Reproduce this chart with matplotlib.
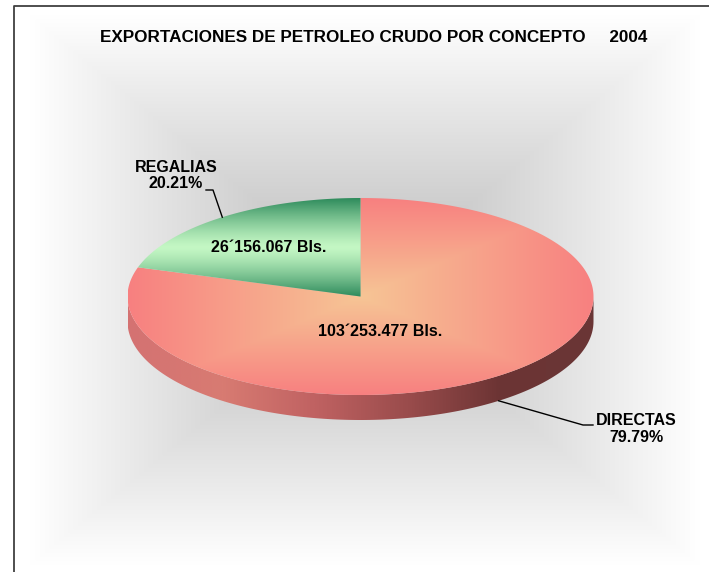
import numpy as np
import matplotlib
matplotlib.use("Agg")
from matplotlib import pyplot as plt
from matplotlib.patches import Polygon
from matplotlib.colors import LinearSegmentedColormap, to_rgb


# data of the chart
conceptos = ["DIRECTAS", "REGALIAS"]
barriles = [103253477, 26156067]
titulo = "EXPORTACIONES DE PETROLEO CRUDO POR CONCEPTO     2004"

plt.rcParams['font.family'] = ['Liberation Sans', 'DejaVu Sans']

W, H = 709, 572
fig = plt.figure(figsize=(W / 100, H / 100), dpi=100)
ax = fig.add_axes([0, 0, 1, 1])

# pie geometry in pixels
cx, cy, a, b, depth = 360.5, 296.5, 233.0, 98.5, 25.0


def rim(t, dz=0.0):
    t = np.radians(t)
    return cx + a * np.cos(t), cy - b * np.sin(t) + dz


def lerp(c0, c1, w):
    c0 = np.array(to_rgb(c0))
    c1 = np.array(to_rgb(c1))
    w = np.clip(w, 0, 1)[..., None]
    return c0 + (c1 - c0) * w


def grad_image(func, extent, clip=None, z=1, n=500):
    x0, x1, y0, y1 = extent
    X, Y = np.meshgrid(np.linspace(x0, x1, n), np.linspace(y0, y1, n))
    im = ax.imshow(func(X, Y), extent=(x0, x1, y1, y0), origin='upper',
                   interpolation='bilinear', aspect='auto', zorder=z)
    if clip is not None:
        ax.add_patch(clip)
        im.set_clip_path(clip)
    return im


def fmt_bls(v):
    s = f"{v:,}".split(",")
    return s[0] + "\u00b4" + ".".join(s[1:]) + " Bls."


# background: rectangular gradient, grey in the middle, white at the border
def bg(X, Y):
    v = np.maximum(np.abs(X - 365) / 335, np.abs(Y - 290) / 275)
    return lerp('#b8b8b8', '#ffffff', v)


grad_image(bg, (0, W, 0, H), z=0)

total = sum(barriles)
fracs = [v / total for v in barriles]

# wedge angles, starting at 12 o'clock, clockwise
angles = []
start = 90.0
for f in fracs:
    end = start - 360.0 * f
    angles.append((start, end))
    start = end

# side of the pie (only the front half is visible)
side_cmap = LinearSegmentedColormap.from_list(
    'side', ['#d47272', '#d87b72', '#c06262', '#9a4c4c', '#6c3434', '#6a3636'])
ts = np.linspace(180, 360, 200)
xs, ys = rim(ts)
xb, yb = rim(ts[::-1], depth)
side = Polygon(np.column_stack([np.r_[xs, xb], np.r_[ys, yb]]),
               closed=True, facecolor='none', edgecolor='none', zorder=2)
grad_image(lambda X, Y: side_cmap((X - (cx - a)) / (2 * a))[..., :3],
           (cx - a, cx + a, cy - 2, cy + b + depth + 2), clip=side, z=2)


# top faces
def top_directas(X, Y):
    v = np.maximum(np.abs(X - cx) / a, np.abs(Y - cy) / b)
    return lerp('#f6c595', '#f88080', v)


y_top = cy - b


def top_regalias(X, Y):
    w = np.abs(Y - (y_top + cy) / 2) / ((cy - y_top) / 2)
    return lerp('#c4f7c4', '#2e8b5c', w ** 1.3)


fills = [top_directas, top_regalias]
for (t0, t1), fill in zip(angles, fills):
    tt = np.linspace(t0, t1, 300)
    px, py = rim(tt)
    wedge = Polygon(np.column_stack([np.r_[cx, px], np.r_[cy, py]]),
                    closed=True, facecolor='none', edgecolor='none', zorder=3)
    grad_image(fill, (cx - a, cx + a, cy - b, cy + b), clip=wedge, z=3)

# value labels inside the wedges
inner_pos = [(380, 332), (269, 248)]
for v, (x, y) in zip(barriles, inner_pos):
    ax.text(x, y, fmt_bls(v), ha='center', va='center', fontsize=11.5,
            fontweight='bold', zorder=5)

# outer labels with leader lines
mids = [(t0 + t1) / 2 for t0, t1 in angles]
# DIRECTAS
mx, my = rim(mids[0], depth)
ax.plot([mx, 583, 593], [my, 425, 425], color='black', lw=1, zorder=5)
ax.text(636, 429, f"{conceptos[0]}\n{fracs[0] * 100:.2f}%", ha='center',
        va='center', fontsize=11.5, fontweight='bold', linespacing=1.1, zorder=5)
# REGALIAS
mx, my = rim(mids[1])
ax.plot([mx, 213, 206], [my, 190, 190], color='black', lw=1, zorder=5)
ax.text(176, 175.5, f"{conceptos[1]}\n{fracs[1] * 100:.2f}%", ha='center',
        va='center', fontsize=11.5, fontweight='bold', linespacing=1.1, zorder=5)

# title
ax.text(373.5, 38, titulo, ha='center', va='center', fontsize=12.3,
        fontweight='bold', zorder=5)

# frame
ax.plot([14, 14, W], [H, 5.5, 5.5], color='#404040', lw=1.3, zorder=6)

ax.set_xlim(0, W)
ax.set_ylim(H, 0)
ax.axis('off')

fig.savefig('out.png', dpi=100)
